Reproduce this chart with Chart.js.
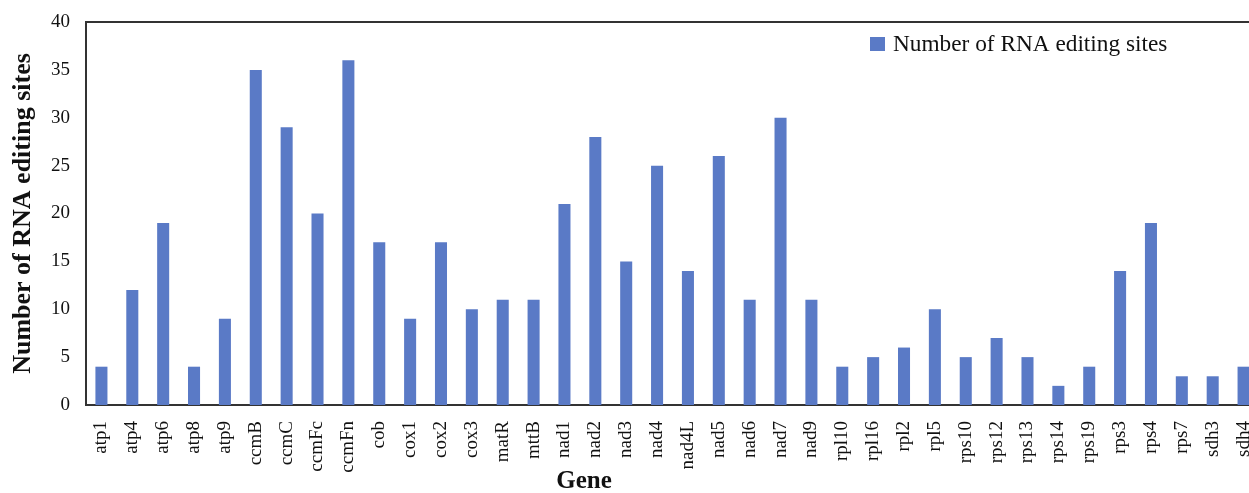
<!DOCTYPE html>
<html>
<head>
<meta charset="utf-8">
<script src="https://cdn.jsdelivr.net/npm/chart.js@4/dist/chart.umd.min.js"></script>
<style>
  html, body { margin: 0; padding: 0; background: #fff; overflow: hidden; }
  canvas { display: block; }
</style>
</head>
<body>
<canvas id="c" width="1262" height="493"></canvas>
<script>
// Gene names on the x axis
const genes = ['atp1','atp4','atp6','atp8','atp9','ccmB','ccmC','ccmFc','ccmFn','cob',
  'cox1','cox2','cox3','matR','mttB','nad1','nad2','nad3','nad4','nad4L',
  'nad5','nad6','nad7','nad9','rpl10','rpl16','rpl2','rpl5','rps10','rps12',
  'rps13','rps14','rps19','rps3','rps4','rps7','sdh3','sdh4'];

// RNA editing sites counted per gene
const editingSites = [4,12,19,4,9,35,29,20,36,17,
  9,17,10,11,11,21,28,15,25,14,
  26,11,30,11,4,5,6,10,5,7,
  5,2,4,14,19,3,3,4];

const seriesName = 'Number of RNA editing sites';
const xTitle = 'Gene';
const yTicks = [0,5,10,15,20,25,30,35,40];

const barColor = '#5a7ac6';
const axisColor = '#333333';
const serif = '"Liberation Serif", "Times New Roman", serif';

// Closes the plot frame along the top edge
const topFrame = {
  id: 'topFrame',
  afterDraw(chart) {
    const { ctx, chartArea } = chart;
    ctx.save();
    ctx.strokeStyle = axisColor;
    ctx.lineWidth = 2;
    ctx.beginPath();
    ctx.moveTo(chartArea.left - 1, chartArea.top);
    ctx.lineTo(chartArea.right, chartArea.top);
    ctx.stroke();
    ctx.restore();
  }
};

// Legend entry in the upper right of the plot, and the x-axis caption
const annotations = {
  id: 'annotations',
  afterDraw(chart) {
    const { ctx } = chart;
    const ds = chart.data.datasets[0];
    ctx.save();
    ctx.fillStyle = ds.backgroundColor;
    ctx.fillRect(870, 37, 15, 14);
    ctx.fillStyle = '#111';
    ctx.font = '23.3px ' + serif;
    ctx.textBaseline = 'middle';
    ctx.textAlign = 'left';
    ctx.fillText(ds.label, 893, 44.5);

    ctx.font = 'bold 25px ' + serif;
    ctx.textAlign = 'center';
    ctx.fillText(xTitle, 584, 482);
    ctx.restore();
  }
};

new Chart(document.getElementById('c'), {
  type: 'bar',
  data: {
    labels: genes,
    datasets: [{
      label: seriesName,
      data: editingSites,
      backgroundColor: barColor,
      borderWidth: 0,
      categoryPercentage: 1,
      barPercentage: 0.39
    }]
  },
  options: {
    responsive: false,
    animation: false,
    layout: { padding: { top: 22, right: 3, bottom: 0, left: 0 } },
    plugins: {
      legend: { display: false },
      tooltip: { enabled: false }
    },
    scales: {
      x: {
        grid: { display: false },
        border: { display: true, color: axisColor, width: 2 },
        ticks: {
          color: '#111',
          font: { family: serif, size: 19 },
          minRotation: 90,
          maxRotation: 90,
          autoSkip: false,
          padding: 8
        },
        title: { display: false },
        afterFit(scale) {
          scale.height = 88;
          // let the last rotated label run past the plot edge
          scale.paddingLeft = 0;
          scale.paddingRight = 0;
        }
      },
      y: {
        min: 0,
        max: 40,
        grid: { display: false },
        border: { display: true, color: axisColor, width: 2 },
        afterBuildTicks(scale) { scale.ticks = yTicks.map(v => ({ value: v })); },
        ticks: {
          color: '#111',
          font: { family: serif, size: 19 },
          padding: 8
        },
        title: {
          display: true,
          text: seriesName,
          color: '#111',
          font: { family: serif, size: 26, weight: 'bold' },
          padding: { top: 8, bottom: 0 }
        },
        afterFit(scale) { scale.width = 86; }
      }
    }
  },
  plugins: [topFrame, annotations]
});
</script>
</body>
</html>
